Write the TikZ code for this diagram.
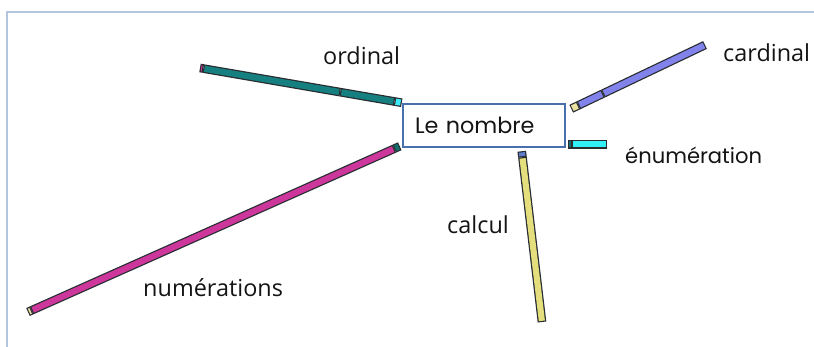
\documentclass[tikz,border=0pt]{standalone}
\usepackage{fontspec}
\setmainfont{Open Sans}
\newfontfamily\geofont{Poppins}
\usepackage{tikz}
\usetikzlibrary{calc, backgrounds}
\definecolor{ordcol}{RGB}{22,128,128}
\definecolor{carcol}{RGB}{130,130,235}
\definecolor{enucol}{RGB}{50,240,245}
\definecolor{calcol}{RGB}{228,222,125}
\definecolor{numcol}{RGB}{205,55,155}
\definecolor{capmag}{RGB}{200,50,150}
\definecolor{capcyan}{RGB}{60,235,245}
\definecolor{capyel}{RGB}{235,225,160}
\definecolor{capblue}{RGB}{95,125,205}
\definecolor{capteal}{RGB}{20,110,110}
\definecolor{rodline}{RGB}{40,45,50}
\definecolor{boxblue}{RGB}{72,112,172}
\definecolor{framecol}{RGB}{180,198,220}
\definecolor{txt}{RGB}{20,20,20}
\tikzset{
  rod/.style={line width=2.6mm, draw=rodline, postaction={draw=#1, line width=1.85mm, shorten <=0.35mm, shorten >=0.35mm}},
  lbl/.style={font=\fontsize{20}{24}\selectfont, text=txt, inner sep=0pt, anchor=base west},
  nombrebox/.style={rectangle, draw=boxblue, line width=0.075cm, fill=white, minimum width=4.86cm, minimum height=1.29cm, text width=4.14cm, inner xsep=0.36cm, align=left, font=\geofont\fontsize{19}{23}\selectfont, text=txt}
}

\begin{document}
\begin{tikzpicture}[x=0.03cm, y=-0.03cm]
    \useasboundingbox (0,0) rectangle (814,347);
    % Cadre (bord haut et bord gauche)
    \draw[framecol, line width=0.05cm] (7,347) -- (7,12) -- (814,12);

    % Noeud central
    \node[nombrebox] (nombre) at (484,125.5) {Le nombre};

    % Etiquettes des branches
    \node[lbl] (ordinal) at (323,65) {ordinal};
    \node[lbl] (cardinal) at (723,62) {cardinal};
    \node[lbl, font=\geofont\fontsize{18}{22}\selectfont] (enum) at (625,164) {énumération};
    \node[lbl] (calcul) at (447,234) {calcul};
    \node[lbl] (numer) at (143,297) {numérations};

    % Extremites des tiges
    \coordinate (ordA) at (200,68);
    \coordinate (ordB) at (nombre.north west);
    \coordinate (carA) at (705,45);
    \coordinate (carB) at ($(nombre.north east)+(5,6)$);
    \coordinate (enuB) at ($(nombre.south east)+(2,-4)$);
    \coordinate (enuA) at ($(enuB)+(39,0)$);
    \coordinate (calA) at (542,322);
    \coordinate (calB) at ($(nombre.south west)+(120,3)$);
    \coordinate (numA) at (28,312);
    \coordinate (numB) at ($(nombre.south west)+(-2,-2)$);

    \begin{scope}[on background layer]
        % ordinal
        \draw[rod=capmag] (ordA) -- ($(ordA)!0.1cm!(ordB)$);
        \draw[rod=ordcol] ($(ordA)!0.1cm!(ordB)$) -- ($(ordA)!0.695!(ordB)$);
        \draw[rod=ordcol] ($(ordA)!0.695!(ordB)$) -- ($(ordB)!0.22cm!(ordA)$);
        \draw[rod=capcyan] ($(ordB)!0.22cm!(ordA)$) -- (ordB);
        % cardinal
        \draw[rod=carcol] (carA) -- ($(carB)!0.237!(carA)$);
        \draw[rod=carcol] ($(carB)!0.237!(carA)$) -- ($(carB)!0.24cm!(carA)$);
        \draw[rod=capyel] ($(carB)!0.24cm!(carA)$) -- (carB);
        % enumeration
        \draw[rod=enucol] (enuA) -- ($(enuB)!0.12cm!(enuA)$);
        \draw[rod=capteal] ($(enuB)!0.12cm!(enuA)$) -- (enuB);
        % calcul
        \draw[rod=calcol] (calA) -- ($(calB)!0.18cm!(calA)$);
        \draw[rod=capblue] ($(calB)!0.18cm!(calA)$) -- (calB);
        % numerations
        \draw[rod=capyel] (numA) -- ($(numA)!0.12cm!(numB)$);
        \draw[rod=numcol] ($(numA)!0.12cm!(numB)$) -- ($(numB)!0.18cm!(numA)$);
        \draw[rod=capteal] ($(numB)!0.18cm!(numA)$) -- (numB);
    \end{scope}
\end{tikzpicture}
\end{document}
